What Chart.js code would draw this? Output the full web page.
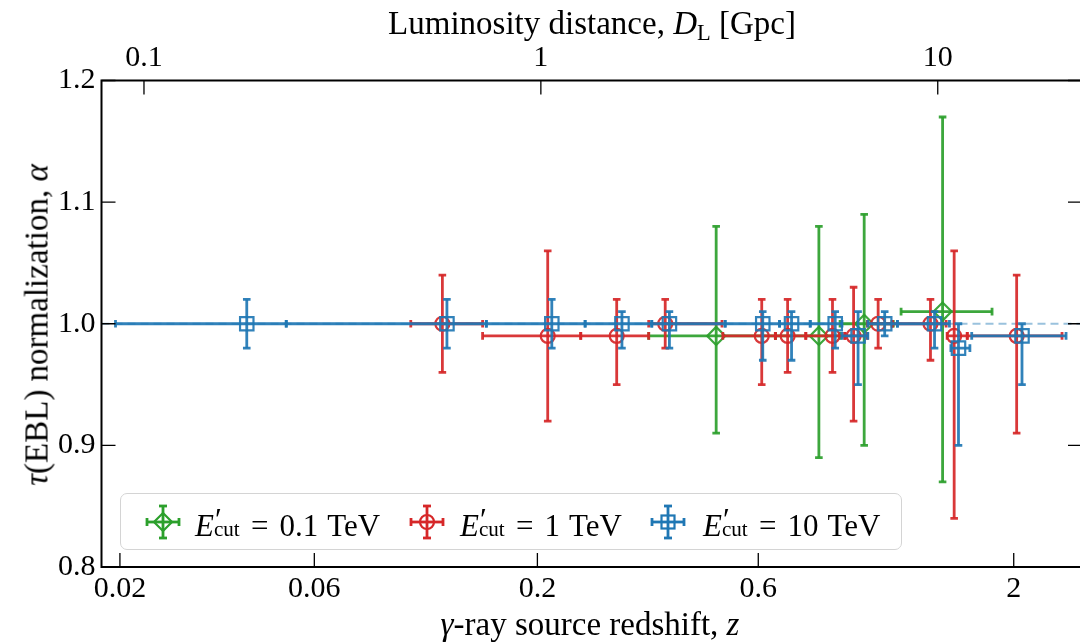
<!DOCTYPE html>
<html>
<head>
<meta charset="utf-8">
<title>EBL normalization vs redshift</title>
<script src="https://cdn.jsdelivr.net/npm/chart.js@4.4.1/dist/chart.umd.min.js"></script>
<style>
  html, body { margin: 0; padding: 0; background: #fff; overflow: hidden; width: 1080px; height: 642px; }
  #wrap { position: relative; width: 1080px; height: 642px; overflow: hidden; }
  #plot { position: absolute; left: 0; top: 0; }
  .lbl { position: absolute; font-family: "Liberation Serif", serif; color: #000; white-space: nowrap; line-height: 1; }
  .lbl sub { font-size: 0.68em; vertical-align: -0.28em; line-height: 0; }
  #legend { position: absolute; left: 120px; top: 493px; width: 782px; height: 57px; box-sizing: border-box;
            border: 1.3px solid #d4d4d4; border-radius: 7px; background: rgba(255,255,255,0.85); }
  .item { position: absolute; top: 0; height: 57px; }
  .item svg { position: absolute; top: 10px; }
  .item .txt { position: absolute; top: 11px; font-family: "Liberation Serif", serif; font-size: 31px; white-space: nowrap; }
  .pc { display: inline-block; position: relative; width: 28px; height: 1em; }
  .pc .pr { position: absolute; left: 1px; top: -3px; font-size: 1em; }
  .pc .cut { position: absolute; left: 0; top: 12px; font-size: 0.68em; }
  .eq { margin: 0 11px 0 9px; }
  .unit { margin-left: 9px; }
</style>
</head>
<body>
<div id="wrap">
  <canvas id="plot" width="1100" height="642"></canvas>

  <div class="lbl" style="left:592px; top:23px; transform:translate(-50%,-50%); font-size:33px;">Luminosity distance, <i>D</i><sub>L</sub> [Gpc]</div>
  <div class="lbl" style="left:590px; top:624px; transform:translate(-50%,-50%); font-size:33px;"><i>γ</i>-ray source redshift, <i>z</i></div>
  <div class="lbl" style="left:37px; top:325px; transform:translate(-50%,-50%) rotate(-90deg); font-size:33px;"><i>τ</i>(EBL) normalization, <i>α</i></div>

  <div id="legend">
    <div class="item" style="left:0">
      <svg width="40" height="36" viewBox="0 0 40 36" style="left:22px">
        <g stroke="#2ca02c" stroke-width="2.8" fill="none">
          <line x1="4" y1="18" x2="36" y2="18"/><line x1="4" y1="14" x2="4" y2="22"/><line x1="36" y1="14" x2="36" y2="22"/>
          <line x1="20" y1="2" x2="20" y2="34"/><line x1="16" y1="2" x2="24" y2="2"/><line x1="16" y1="34" x2="24" y2="34"/>
          <polygon points="20,9 29,18 20,27 11,18" stroke-width="2.2"/>
        </g>
      </svg>
      <div class="txt" style="left:74px"><i>E</i><span class="pc"><span class="pr">′</span><span class="cut">cut</span></span><span class="eq">=</span>0.1<span class="unit">TeV</span></div>
    </div>
    <div class="item" style="left:264px">
      <svg width="40" height="36" viewBox="0 0 40 36" style="left:22px">
        <g stroke="#d62728" stroke-width="2.8" fill="none">
          <line x1="4" y1="18" x2="36" y2="18"/><line x1="4" y1="14" x2="4" y2="22"/><line x1="36" y1="14" x2="36" y2="22"/>
          <line x1="20" y1="2" x2="20" y2="34"/><line x1="16" y1="2" x2="24" y2="2"/><line x1="16" y1="34" x2="24" y2="34"/>
          <circle cx="20" cy="18" r="7" stroke-width="2.2"/>
        </g>
      </svg>
      <div class="txt" style="left:75px"><i>E</i><span class="pc"><span class="pr">′</span><span class="cut">cut</span></span><span class="eq">=</span>1<span class="unit">TeV</span></div>
    </div>
    <div class="item" style="left:505px">
      <svg width="40" height="36" viewBox="0 0 40 36" style="left:22px">
        <g stroke="#1f77b4" stroke-width="2.8" fill="none">
          <line x1="4" y1="18" x2="36" y2="18"/><line x1="4" y1="14" x2="4" y2="22"/><line x1="36" y1="14" x2="36" y2="22"/>
          <line x1="20" y1="2" x2="20" y2="34"/><line x1="16" y1="2" x2="24" y2="2"/><line x1="16" y1="34" x2="24" y2="34"/>
          <rect x="13.5" y="11.5" width="13" height="13" stroke-width="2.2"/>
        </g>
      </svg>
      <div class="txt" style="left:77px"><i>E</i><span class="pc"><span class="pr">′</span><span class="cut">cut</span></span><span class="eq">=</span>10<span class="unit">TeV</span></div>
    </div>
  </div>
</div>

<script>
/* ── DATA ────────────────────────────────────────────────── */
// E'cut = 0.1 TeV
const zGreen       = [0.49, 0.80, 0.99, 1.43];
const alphaGreen   = [0.99, 0.99, 1.00, 1.01];
const zLowGreen    = [0.352, 0.651, 0.884, 1.177];
const zHighGreen   = [0.651, 0.884, 1.135, 1.805];
const errDownGreen = [0.08, 0.10, 0.10, 0.14];
const errUpGreen   = [0.09, 0.09, 0.09, 0.16];

// E'cut = 1 TeV
const zRed       = [0.121, 0.211, 0.300, 0.382, 0.610, 0.690, 0.853, 0.942, 1.057, 1.351, 1.510, 2.028];
const alphaRed   = [1.00, 0.99, 0.99, 1.00, 0.99, 0.99, 0.99, 0.99, 1.00, 1.00, 0.99, 0.99];
const zLowRed    = [0.102, 0.150, 0.250, 0.352, 0.506, 0.651, 0.752, 0.904, 1.005, 1.129, 1.461, 1.606];
const zHighRed   = [0.150, 0.250, 0.352, 0.504, 0.651, 0.752, 0.904, 1.005, 1.129, 1.454, 1.606, 2.517];
const errDownRed = [0.04, 0.07, 0.04, 0.02, 0.04, 0.03, 0.03, 0.07, 0.02, 0.03, 0.15, 0.08];
const errUpRed   = [0.04, 0.07, 0.03, 0.02, 0.03, 0.03, 0.03, 0.04, 0.02, 0.02, 0.07, 0.05];

// E'cut = 10 TeV
const zBlue       = [0.0411, 0.124, 0.2155, 0.308, 0.390, 0.613, 0.703, 0.864, 0.962, 1.090, 1.377, 1.541, 2.080];
const alphaBlue   = [1.00, 1.00, 1.00, 1.00, 1.00, 1.00, 1.00, 1.00, 0.99, 1.00, 1.00, 0.98, 0.99];
const zLowBlue    = [0.0195, 0.0513, 0.153, 0.2557, 0.3574, 0.5118, 0.664, 0.768, 0.892, 1.007, 1.157, 1.487, 1.640];
const zHighBlue   = [0.0513, 0.153, 0.2557, 0.3574, 0.5118, 0.664, 0.768, 0.892, 1.007, 1.157, 1.477, 1.626, 2.566];
const errDownBlue = [0.02, 0.02, 0.02, 0.02, 0.02, 0.03, 0.03, 0.02, 0.04, 0.01, 0.02, 0.08, 0.04];
const errUpBlue   = [0.02, 0.02, 0.02, 0.01, 0.01, 0.01, 0.01, 0.01, 0.02, 0.01, 0.01, 0.02, 0.01];

// axes
const zTicks        = [0.02, 0.06, 0.2, 0.6, 2];
const zTickLabels   = ["0.02", "0.06", "0.2", "0.6", "2"];
const dTicks        = [0.1, 1, 10];
const dTickLabels   = ["0.1", "1", "10"];
const Z_MIN = 0.018, Z_MAX = 2.77;
const ALPHA_MIN = 0.8, ALPHA_MAX = 1.2;
const ALPHA_REF = 1.0;

/* ── COSMOLOGY (flat ΛCDM) ───────────────────────────────── */
const H0 = 70, OMEGA_M = 0.3, C_KMS = 299792.458;
function lumDistGpc(z) {
  const n = 400, h = z / n;
  let s = 0;
  for (let i = 0; i <= n; i++) {
    const f = 1 / Math.sqrt(OMEGA_M * Math.pow(1 + i * h, 3) + 1 - OMEGA_M);
    s += (i === 0 || i === n) ? f : (i % 2 ? 4 * f : 2 * f);
  }
  return (1 + z) * (C_KMS / H0) * (s * h / 3) / 1000;
}

/* ── DATASET BUILDERS ────────────────────────────────────── */
function xErrPoints(a, lo, hi) {
  const pts = [];
  a.forEach((v, i) => {
    const x0 = lumDistGpc(lo[i]), x1 = lumDistGpc(hi[i]);
    pts.push({ x: x0, y: v }, { x: x1, y: v }, { x: x1, y: null });
  });
  return pts;
}
function yErrPoints(z, a, dn, up) {
  const pts = [];
  z.forEach((zz, i) => {
    const x = lumDistGpc(zz);
    pts.push({ x, y: a[i] - dn[i] }, { x, y: a[i] + up[i] }, { x, y: null });
  });
  return pts;
}
function markerPoints(z, a) {
  return z.map((zz, i) => ({ x: lumDistGpc(zz), y: a[i] }));
}

function seriesSets(name, color, style, radius, z, a, lo, hi, dn, up, order) {
  const bar = {
    showLine: true, borderColor: color, borderWidth: 2.8, spanGaps: false,
    pointStyle: "line", pointRadius: 3.8, pointBorderWidth: 2.8,
    pointBorderColor: color, pointBackgroundColor: color, order
  };
  return [
    { label: name + " x", data: xErrPoints(a, lo, hi), pointRotation: 90, ...bar },
    { label: name + " y", data: yErrPoints(z, a, dn, up), pointRotation: 0, ...bar },
    { label: name, data: markerPoints(z, a), showLine: false, pointStyle: style, pointRadius: radius,
      pointBorderWidth: 2.2, pointBorderColor: color, pointBackgroundColor: "rgba(0,0,0,0)", order: order - 0.5 }
  ];
}

const GREEN = "rgba(44,160,44,0.92)", RED = "rgba(214,39,40,0.92)", BLUE = "rgba(31,119,180,0.92)";

const datasets = [
  { label: "reference", data: [{ x: lumDistGpc(Z_MIN), y: ALPHA_REF }, { x: lumDistGpc(Z_MAX), y: ALPHA_REF }],
    showLine: true, borderColor: "rgba(31,119,180,0.45)", borderWidth: 2, borderDash: [8, 5],
    pointRadius: 0, order: 20 },
  ...seriesSets("0.1 TeV", GREEN, "rectRot", 9, zGreen, alphaGreen, zLowGreen, zHighGreen, errDownGreen, errUpGreen, 9),
  ...seriesSets("1 TeV", RED, "circle", 7, zRed, alphaRed, zLowRed, zHighRed, errDownRed, errUpRed, 6),
  ...seriesSets("10 TeV", BLUE, "rect", 9.5, zBlue, alphaBlue, zLowBlue, zHighBlue, errDownBlue, errUpBlue, 3)
];

/* ── FRAME + INWARD TICKS ────────────────────────────────── */
const TICK_LEN = 14;
const frameTicks = {
  id: "frameTicks",
  afterDraw(chart) {
    const { ctx, chartArea: a, scales } = chart;
    ctx.save();
    ctx.strokeStyle = "#000";
    ctx.lineWidth = 1.3;
    ctx.beginPath();
    scales.x.ticks.forEach(t => {
      const px = scales.x.getPixelForValue(t.value);
      ctx.moveTo(px, a.bottom); ctx.lineTo(px, a.bottom - TICK_LEN);
    });
    scales.xTop.ticks.forEach(t => {
      const px = scales.xTop.getPixelForValue(t.value);
      ctx.moveTo(px, a.top); ctx.lineTo(px, a.top + TICK_LEN);
    });
    scales.y.ticks.forEach(t => {
      const py = scales.y.getPixelForValue(t.value);
      ctx.moveTo(a.left, py); ctx.lineTo(a.left + TICK_LEN, py);
      ctx.moveTo(a.right, py); ctx.lineTo(a.right - TICK_LEN, py);
    });
    ctx.stroke();
    ctx.lineWidth = 2;
    ctx.strokeRect(a.left, a.top, a.right - a.left, a.bottom - a.top);
    ctx.restore();
  }
};

/* ── CHART ───────────────────────────────────────────────── */
const tickFont = { family: "'Liberation Serif', serif", size: 30 };

new Chart(document.getElementById("plot"), {
  type: "scatter",
  data: { datasets },
  options: {
    responsive: false, animation: false, events: [],
    layout: { padding: { left: 0, right: 18, top: 0, bottom: 0 } },
    plugins: { legend: { display: false }, tooltip: { enabled: false } },
    elements: { line: { tension: 0 } },
    scales: {
      x: {
        type: "logarithmic", position: "bottom",
        min: lumDistGpc(Z_MIN), max: lumDistGpc(Z_MAX),
        grid: { display: false, drawTicks: false }, border: { display: false },
        ticks: { autoSkip: false, maxRotation: 0, padding: 4, color: "#000", font: tickFont,
                 callback: (v, i) => zTickLabels[i] },
        afterBuildTicks: s => { s.ticks = zTicks.map(z => ({ value: lumDistGpc(z) })); },
        afterFit: s => { s.height = 75; }
      },
      xTop: {
        type: "logarithmic", position: "top",
        min: lumDistGpc(Z_MIN), max: lumDistGpc(Z_MAX),
        grid: { display: false, drawTicks: false }, border: { display: false },
        ticks: { autoSkip: false, maxRotation: 0, padding: 4, color: "#000", font: tickFont,
                 callback: (v, i) => dTickLabels[i] },
        afterBuildTicks: s => { s.ticks = dTicks.map(d => ({ value: d })); },
        afterFit: s => { s.height = 80.5; }
      },
      y: {
        type: "linear", position: "left", min: ALPHA_MIN, max: ALPHA_MAX,
        grid: { display: false, drawTicks: false }, border: { display: false },
        ticks: { stepSize: 0.1, padding: 6, color: "#000", font: tickFont, callback: v => v.toFixed(1) },
        afterFit: s => { s.width = 101.5; }
      }
    }
  },
  plugins: [frameTicks]
});
</script>
</body>
</html>
